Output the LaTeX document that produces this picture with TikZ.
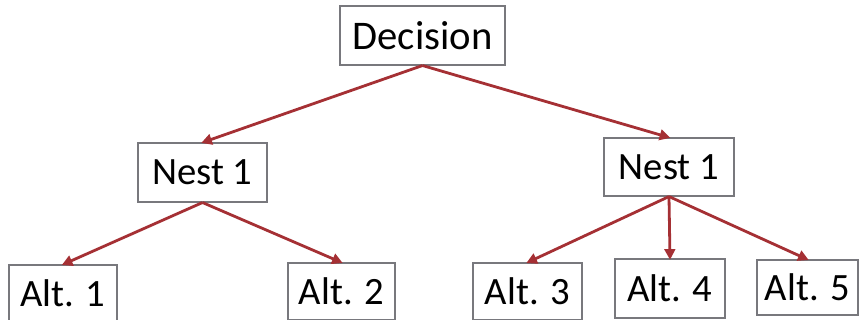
\documentclass[tikz,border=0pt]{standalone}
\usepackage{fontspec}
\setmainfont{Carlito}
\usetikzlibrary{arrows.meta}
\definecolor{linkred}{RGB}{165,48,52}
\definecolor{boxline}{RGB}{120,120,125}
\tikzset{
  box/.style={draw=boxline, line width=0.8pt, rectangle, inner sep=0pt,
    minimum height=#1*0.75pt, font=\fontsize{29}{34}\selectfont, text=black},
  box/.default=58,
  link/.style={draw=linkred, line width=2.1pt,
    -{Triangle[length=8pt,width=8pt]}, shorten >=-1pt}
}
\begin{document}
\begin{tikzpicture}[x=0.75pt, y=-0.75pt]
  \useasboundingbox (0,0) rectangle (861,320);
  % top decision
  \node[box=59, minimum width=165*0.75pt, font=\fontsize{30.5}{36}\selectfont] (dec) at (422.5,35.5) {Decision};
  % nests
  \node[box=59, minimum width=129*0.75pt] (n1) at (202.5,172.5) {Nest 1};
  \node[box=58, minimum width=130*0.75pt] (n2) at (669,167) {Nest 1};
  % alternatives
  \node[box=57, minimum width=108*0.75pt] (a1) at (63,293.5) {Alt. 1};
  \node[box=57, minimum width=107*0.75pt] (a2) at (341.5,291.5) {Alt. 2};
  \node[box=57, minimum width=109*0.75pt] (a3) at (527.5,291.5) {Alt. 3};
  \node[box=59, minimum width=110*0.75pt] (a4) at (670,288.5) {Alt. 4};
  \node[box=55, minimum width=101*0.75pt] (a5) at (807.5,287.5) {Alt. 5};
  % connectors
  \draw[link] (dec.south) -- (n1.north);
  \draw[link] (dec.south) -- (n2.north);
  \draw[link] (n1.south) -- (a1.north);
  \draw[link] (n1.south) -- (a2.north);
  \draw[link] (n2.south) -- (a3.north);
  \draw[link] (n2.south) -- (a4.north);
  \draw[link] (n2.south) -- (a5.north);
\end{tikzpicture}
\end{document}
